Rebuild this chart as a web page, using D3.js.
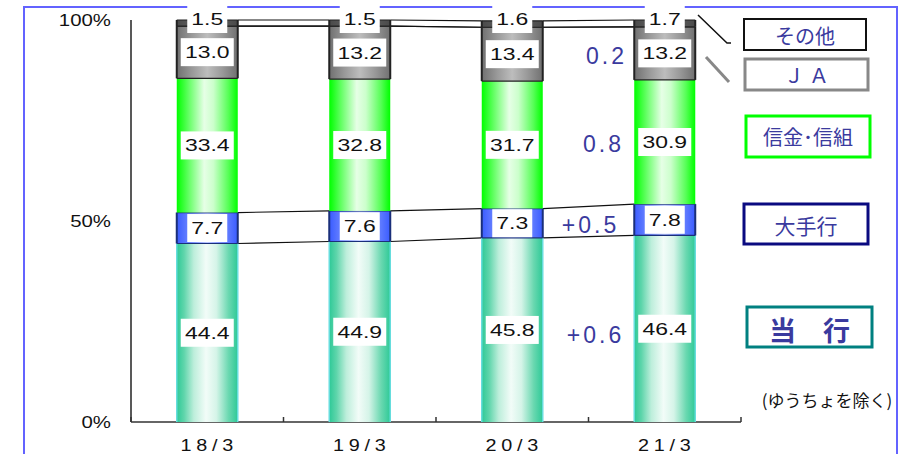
<!DOCTYPE html>
<html><head><meta charset="utf-8">
<script src="https://cdn.jsdelivr.net/npm/d3@7"></script>
<style>body{margin:0;background:#fff}svg{display:block}</style>
</head><body>
<svg id="c" width="905" height="454"></svg>
<script>
const categories = ["18/3","19/3","20/3","21/3"];
const seriesNames = ["当　行","大手行","信金･信組","ＪＡ","その他"];
const touko   = [44.4, 44.9, 45.8, 46.4];
const ote     = [7.7, 7.6, 7.3, 7.8];
const shinkin = [33.4, 32.8, 31.7, 30.9];
const ja      = [13.0, 13.2, 13.4, 13.2];
const sonota  = [1.5, 1.5, 1.6, 1.7];
const yTicks = [0, 50, 100];
const diffLabels = ["0.2","0.8","+0.5","+0.6"];      // ＪＡ, 信金・信組, 大手行, 当行
const diffSeries = [3, 2, 1, 0];
const note = "(ゆうちょを除く)";

const series = [touko, ote, shinkin, ja, sonota];
const svg = d3.select("#c");
const x = d3.scaleBand().domain(categories).range([131, 741]).paddingInner(0.6).paddingOuter(0.3);
const y = d3.scaleLinear().domain([0, 100]).range([422, 20]);
const fontNum = "Liberation Sans, Arial, sans-serif";
const fontJp = "'Noto Sans CJK JP', sans-serif";
const purple = "#3a3a9e";

function stext(parent, tx, ty, sx, txt, opts) {
  const t = parent.append("text").attr("transform", `translate(${tx},${ty}) scale(${sx},1)`)
    .attr("text-anchor", opts.anchor || "middle")
    .attr("font-family", opts.family || fontNum).attr("font-size", opts.size)
    .attr("fill", opts.fill || "#111").text(txt);
  if (opts.ls) t.attr("letter-spacing", opts.ls);
  if (opts.weight) t.attr("font-weight", opts.weight);
  return t;
}

// frame
svg.append("rect").attr("x",24).attr("y",7).attr("width",873).attr("height",460)
  .attr("fill","none").attr("stroke","#6363ff").attr("stroke-width",2);

// gradients
const defs = svg.append("defs");
const grads = [
  {id:"gTouko", stops:[[0,"#2ec997"],[0.12,"#5fd5ab"],[0.28,"#bdeedb"],[0.48,"#f2fcf8"],[0.65,"#d5f4e8"],[0.85,"#6ad8b0"],[1,"#2ec997"]]},
  {id:"gOte", stops:[[0,"#3a5cff"],[0.3,"#7f95ff"],[0.5,"#b8c4ff"],[0.7,"#7f95ff"],[1,"#3a5cff"]]},
  {id:"gShin", stops:[[0,"#00ff00"],[0.2,"#66ff66"],[0.45,"#e6ffe6"],[0.6,"#ccffcc"],[0.85,"#55ff55"],[1,"#00ff00"]]},
  {id:"gJa", stops:[[0,"#707070"],[0.25,"#999"],[0.5,"#bdbdbd"],[0.75,"#999"],[1,"#707070"]]},
  {id:"gSon", stops:[[0,"#4a4a4a"],[0.5,"#6a6a6a"],[1,"#4a4a4a"]]}
];
grads.forEach(g => {
  const lg = defs.append("linearGradient").attr("id",g.id).attr("x1","0").attr("x2","1").attr("y1","0").attr("y2","0");
  g.stops.forEach(s => lg.append("stop").attr("offset",s[0]).attr("stop-color",s[1]));
});
const fills = ["url(#gTouko)","url(#gOte)","url(#gShin)","url(#gJa)","url(#gSon)"];
const strokes = ["#66dddd","#1a2f7a","none","#222","#222"];

// stacked
const cum = categories.map((c,i) => {
  let acc = 0; return series.map(s => { const y0 = acc; acc += s[i]; return [y0, acc]; });
});

// axes
svg.append("line").attr("x1",131).attr("x2",131).attr("y1",y(100)).attr("y2",y(0)).attr("stroke","#222").attr("stroke-width",1.5);
svg.append("line").attr("x1",131).attr("x2",741).attr("y1",y(0)).attr("y2",y(0)).attr("stroke","#333").attr("stroke-width",1.5);
const step = x.step();
d3.range(categories.length+1).forEach(k => {
  const xx = 131 + k*step;
  svg.append("line").attr("x1",xx).attr("x2",xx).attr("y1",y(0)).attr("y2",y(0)-5).attr("stroke","#333").attr("stroke-width",1.5);
});
yTicks.forEach(t => stext(svg, 111, y(t)+6, 1.2, t+"%", {anchor:"end", size:17}));
categories.forEach(c => stext(svg, x(c)+x.bandwidth()/2+2, 451, 1.2, c, {size:16.5, ls:4}));

// connector lines
const bounds = [[1,0],[1,1],[3,1],[4,0],[4,1]]; // [series index, 0=bottom/1=top]
bounds.forEach(([si,e]) => {
  for (let i=0;i<categories.length-1;i++){
    svg.append("line").attr("x1",x(categories[i])+x.bandwidth()).attr("x2",x(categories[i+1]))
      .attr("y1",y(cum[i][si][e])).attr("y2",y(cum[i+1][si][e])).attr("stroke","#111").attr("stroke-width",1.2);
  }
});

// bars
categories.forEach((c,i) => {
  series.forEach((s,si) => {
    const [a,b] = cum[i][si];
    svg.append("rect").attr("x",x(c)).attr("y",y(b)).attr("width",x.bandwidth()).attr("height",y(a)-y(b))
      .attr("fill",fills[si]);
    if (strokes[si] !== "none") {
      const g = svg.append("g").attr("stroke",strokes[si]).attr("stroke-width",si===0?1.5:2);
      g.append("line").attr("x1",x(c)).attr("x2",x(c)).attr("y1",y(b)).attr("y2",y(a));
      g.append("line").attr("x1",x(c)+x.bandwidth()).attr("x2",x(c)+x.bandwidth()).attr("y1",y(b)).attr("y2",y(a));
      if (si===1||si===3||si===4) {
        g.append("line").attr("x1",x(c)).attr("x2",x(c)+x.bandwidth()).attr("y1",y(b)).attr("y2",y(b)).attr("stroke-width",1.2);
        g.append("line").attr("x1",x(c)).attr("x2",x(c)+x.bandwidth()).attr("y1",y(a)).attr("y2",y(a)).attr("stroke-width",1.2);
      }
    }
  });
});
// value labels
categories.forEach((c,i) => {
  series.forEach((s,si) => {
    const [a,b] = cum[i][si];
    const cx = x(c)+x.bandwidth()/2;
    const cy = si===4 ? 19 : (y(a)+y(b))/2;
    const txt = s[i].toFixed(1);
    const w = txt.length > 3 ? 53 : 40;
    const h = 28;
    svg.append("rect").attr("x",cx-w/2).attr("y",cy-h/2).attr("width",w).attr("height",h).attr("fill","#fff");
    stext(svg, cx, cy+6, 1.35, txt, {size:17});
  });
});

// difference annotations between 20/3 and 21/3
const diffX = [605, 602, 589, 594], diffDy = [11, 10, 13, 14];
diffLabels.forEach((d,k) => {
  const si = diffSeries[k];
  const [a,b] = cum[3][si];
  svg.append("text").attr("x",diffX[k]+1.5).attr("y",(y(a)+y(b))/2+diffDy[k]).attr("text-anchor","middle")
    .attr("font-family",fontNum).attr("font-size",23).attr("letter-spacing",3).attr("fill",purple).text(d);
});

// legend boxes
const legend = [
  {name:seriesNames[4], x:744, y:19, w:122, h:31, stroke:"#111", sw:2, fs:20, by:44, ls:0},
  {name:seriesNames[3], x:745, y:59, w:123, h:31, stroke:"#888", sw:3, fs:20, by:83, ls:5},
  {name:seriesNames[2], x:746, y:116, w:124, h:41, stroke:"#00ff00", sw:3, fs:20, by:145, ls:0},
  {name:seriesNames[1], x:744, y:204, w:124, h:40, stroke:"#0a0a80", sw:3, fs:21, by:234, ls:0},
  {name:seriesNames[0], x:747, y:307, w:125, h:40, stroke:"#008080", sw:3, fs:27, by:341, ls:0, bold:true}
];
legend.forEach(l => {
  svg.append("rect").attr("x",l.x).attr("y",l.y).attr("width",l.w).attr("height",l.h)
    .attr("fill","#fff").attr("stroke",l.stroke).attr("stroke-width",l.sw);
  svg.append("text").attr("x",l.x+l.w/2+l.ls/2).attr("y",l.by).attr("text-anchor","middle")
    .attr("font-family",fontJp).attr("font-size",l.fs).attr("font-weight",l.bold?"bold":"normal")
    .attr("letter-spacing",l.ls).attr("fill",purple).text(l.name);
});
svg.append("polyline").attr("points","698,15 727,43 731,43").attr("fill","none").attr("stroke","#111").attr("stroke-width",1.5);
svg.append("line").attr("x1",706).attr("y1",57).attr("x2",729).attr("y2",82).attr("stroke","#888").attr("stroke-width",3);
svg.append("text").attr("x",827).attr("y",407).attr("text-anchor","middle")
  .attr("font-family",fontJp).attr("font-size",17).attr("fill","#111").text(note);
</script>
</body></html>
